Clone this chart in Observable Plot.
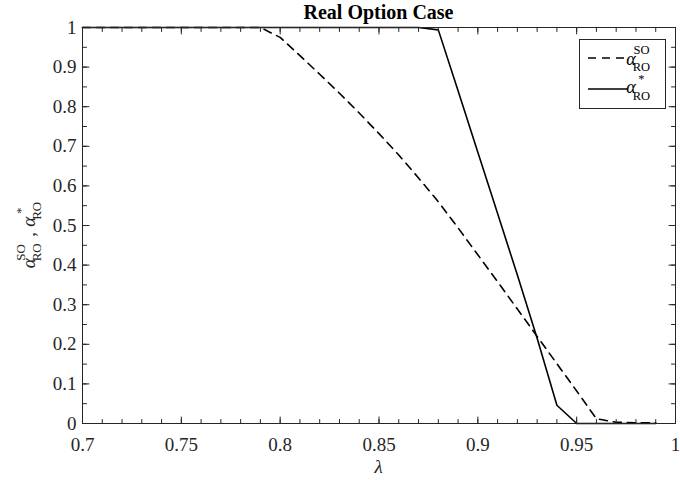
<!DOCTYPE html>
<html>
<head>
<meta charset="utf-8">
<script src="https://cdn.jsdelivr.net/npm/d3@7"></script>
<script src="https://cdn.jsdelivr.net/npm/@observablehq/plot@0.6"></script>
<style>
  body { margin: 0; background: #fff; }
  #chart svg, #chart svg text { font-family: "Liberation Serif", "Times New Roman", Times, serif !important; }
</style>
</head>
<body>
<div id="chart"></div>
<script>
// ---- data ----
const lambda = [0.70, 0.71, 0.72, 0.73, 0.74, 0.75, 0.76, 0.77, 0.78, 0.79,
                0.80, 0.81, 0.82, 0.83, 0.84, 0.85, 0.86, 0.87, 0.88, 0.89,
                0.90, 0.91, 0.92, 0.93, 0.94, 0.95, 0.96, 0.97, 0.98, 0.99];
const alphaSO = [1, 1, 1, 1, 1, 1, 1, 1, 1, 1,
                 0.975, 0.929, 0.882, 0.834, 0.784, 0.732, 0.678, 0.62, 0.56, 0.494,
                 0.426, 0.358, 0.289, 0.22, 0.151, 0.082, 0.012, 0.003, 0.002, 0.002];
const alphaStar = [1, 1, 1, 1, 1, 1, 1, 1, 1, 1,
                   1, 1, 1, 1, 1, 1, 1, 1, 0.994, 0.84,
                   0.685, 0.53, 0.375, 0.215, 0.046, 0, 0, 0, 0, 0];
const xTicks = [0.7, 0.75, 0.8, 0.85, 0.9, 0.95, 1];
const xTickLabels = ["0.7", "0.75", "0.8", "0.85", "0.9", "0.95", "1"];
const yTicks = [0, 0.1, 0.2, 0.3, 0.4, 0.5, 0.6, 0.7, 0.8, 0.9, 1];
const yTickLabels = ["0", "0.1", "0.2", "0.3", "0.4", "0.5", "0.6", "0.7", "0.8", "0.9", "1"];
const xMinorTicks = [0.70, 0.71, 0.72, 0.73, 0.74, 0.75, 0.76, 0.77, 0.78, 0.79, 0.80,
                     0.81, 0.82, 0.83, 0.84, 0.85, 0.86, 0.87, 0.88, 0.89, 0.90,
                     0.91, 0.92, 0.93, 0.94, 0.95, 0.96, 0.97, 0.98, 0.99, 1.00];
const yMinorTicks = [0, 0.05, 0.1, 0.15, 0.2, 0.25, 0.3, 0.35, 0.4, 0.45, 0.5,
                     0.55, 0.6, 0.65, 0.7, 0.75, 0.8, 0.85, 0.9, 0.95, 1];
const titleText = "Real Option Case";
const xLabelText = "λ";

const rows = lambda.map((l, i) => ({lambda: l, so: alphaSO[i], star: alphaStar[i]}));

// ---- styling ----
const axisColor = "#262626";
const font = "Liberation Serif, Times New Roman, Times, serif";
const W = 680, H = 480;
const mL = 82, mR = 5, mT = 27, mB = 57;

const tickShape = {draw(ctx, l) { ctx.moveTo(0, 0); ctx.lineTo(0, -l); }};
function tickMarks(values, dim, len) {
  const common = {length: len, anchor: "start", shape: tickShape, stroke: axisColor, strokeWidth: 1};
  if (dim === "x") return [
    Plot.vector(values, {x: d => d, frameAnchor: "bottom", rotate: 0, ...common}),
    Plot.vector(values, {x: d => d, frameAnchor: "top", rotate: 180, ...common})
  ];
  return [
    Plot.vector(values, {y: d => d, frameAnchor: "left", rotate: 90, ...common}),
    Plot.vector(values, {y: d => d, frameAnchor: "right", rotate: -90, ...common})
  ];
}

const plot = Plot.plot({
  width: W, height: H,
  marginLeft: mL, marginRight: mR, marginTop: mT, marginBottom: mB,
  x: {domain: [0.7, 1]},
  y: {domain: [0, 1]},
  style: {fontFamily: font, background: "#fff", color: axisColor, overflow: "visible"},
  marks: [
    Plot.line(rows, {x: "lambda", y: "so", stroke: "#000", strokeWidth: 1.6, strokeDasharray: "8,6"}),
    Plot.line(rows, {x: "lambda", y: "star", stroke: "#000", strokeWidth: 1.6}),
    ...tickMarks(xMinorTicks, "x", 4),
    ...tickMarks(xTicks, "x", 6.5),
    ...tickMarks(yMinorTicks, "y", 4),
    ...tickMarks(yTicks, "y", 6.5),
    Plot.frame({stroke: axisColor, strokeWidth: 1}),
    Plot.axisX(xTicks, {tickSize: 0, tickPadding: 14, fontSize: 19, fill: axisColor, label: null,
      tickFormat: d => xTickLabels[xTicks.indexOf(d)]}),
    Plot.axisY(yTicks, {tickSize: 0, tickPadding: 6, fontSize: 19, fill: axisColor, label: null,
      tickFormat: d => yTickLabels[yTicks.indexOf(d)]})
  ]
});
document.getElementById("chart").appendChild(plot);

// ---- annotations: title, axis labels, legend ----
const svg = d3.select(plot);
const plotCx = mL + (W - mL - mR) / 2;

svg.append("text")
  .attr("x", plotCx).attr("y", 19)
  .attr("text-anchor", "middle")
  .attr("font-weight", "bold").attr("font-size", 20)
  .attr("fill", "#000")
  .text(titleText);

svg.append("text")
  .attr("x", plotCx).attr("y", 473)
  .attr("text-anchor", "middle")
  .attr("font-size", 19).attr("font-style", "italic")
  .attr("fill", axisColor)
  .text(xLabelText);

// measure text width
function measure(str, size, style) {
  const t = svg.append("text").attr("font-size", size).attr("font-style", style || "normal")
    .attr("visibility", "hidden").text(str);
  const w = t.node().getComputedTextLength();
  t.remove();
  return w;
}

// base symbol with stacked superscript and subscript, built as one text element
function scripted(parent, x, y, base, sup, sub, o) {
  const wb = measure(base, o.base, "italic");
  const sx = x + wb + 1;
  const t = parent.append("text").attr("x", x).attr("y", y);
  t.append("tspan").attr("font-size", o.base).attr("font-style", "italic").text(base);
  t.append("tspan").attr("x", sx).attr("y", y + o.supDy).attr("font-size", o.script).text(sup);
  t.append("tspan").attr("x", sx).attr("y", y + o.subDy).attr("font-size", o.script).text(sub);
  return sx + Math.max(measure(sup, o.script), measure(sub, o.script));
}

const scriptOpts = {base: 19, script: 13, supDy: -10, subDy: 6};

// y label (rotated)
const yl = svg.append("g").attr("fill", axisColor);
let cx = 0;
cx = scripted(yl, cx, 0, "α", "SO", "RO", scriptOpts);
yl.append("text").attr("x", cx).attr("y", 0).attr("font-size", 19).text(",");
cx += measure(", ", 19) + 3;
cx = scripted(yl, cx, 0, "α", "*", "RO", scriptOpts);
yl.attr("transform", `translate(35,${228 + cx / 2}) rotate(-90)`);

// legend
const lg = svg.append("g").attr("fill", "#000");
lg.append("rect")
  .attr("x", 579.5).attr("y", 39.5).attr("width", 86).attr("height", 69)
  .attr("fill", "#fff").attr("stroke", axisColor).attr("stroke-width", 1);
lg.append("line")
  .attr("x1", 588).attr("x2", 628).attr("y1", 58).attr("y2", 58)
  .attr("stroke", "#000").attr("stroke-width", 1.6).attr("stroke-dasharray", "8,6");
lg.append("line")
  .attr("x1", 588).attr("x2", 628).attr("y1", 89).attr("y2", 89)
  .attr("stroke", "#000").attr("stroke-width", 1.6);
scripted(lg, 631, 65, "α", "SO", "RO", {base: 18, script: 12.5, supDy: -11, subDy: 6});
scripted(lg, 631, 93, "α", "*", "RO", {base: 18, script: 12.5, supDy: -10, subDy: 7});
</script>
</body>
</html>
